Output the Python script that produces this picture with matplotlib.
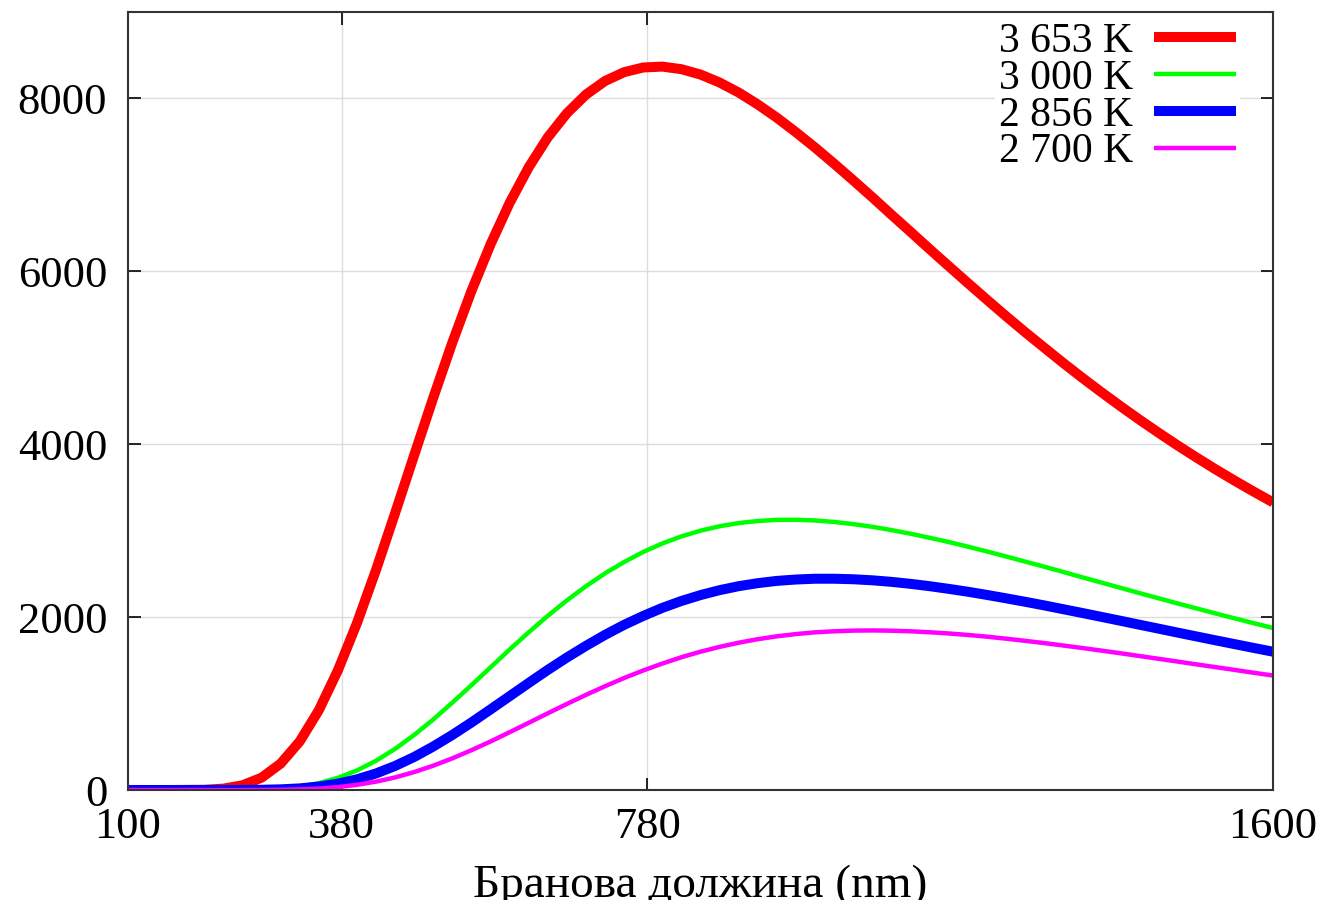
from matplotlib import pyplot as plt
import numpy as np

# values (W/m2/nm against wavelength in nm)
wavelength = [100, 150, 200, 225, 250, 275, 300, 325, 350, 375, 400, 425, 450, 475, 500,
              525, 550, 575, 600, 625, 650, 675, 700, 725, 750, 775, 800, 825, 850, 875,
              900, 925, 950, 975, 1000, 1025, 1050, 1075, 1100, 1125, 1150, 1175, 1200,
              1225, 1250, 1275, 1300, 1325, 1350, 1375, 1400, 1425, 1450, 1475, 1500,
              1525, 1550, 1575, 1600]

t3653 = [0, 0, 3, 16, 55, 143, 306, 563, 924, 1385, 1933, 2549, 3206, 3877, 4541,
         5180, 5775, 6314, 6793, 7205, 7551, 7829, 8045, 8202, 8304, 8358, 8368, 8338,
         8276, 8184, 8068, 7930, 7777, 7609, 7432, 7245, 7053, 6857, 6656, 6458, 6258,
         6061, 5866, 5673, 5483, 5298, 5119, 4941, 4769, 4603, 4441, 4284, 4133, 3986,
         3845, 3708, 3577, 3450, 3327]
t3000 = [0, 0, 0, 0, 2, 6, 18, 40, 80, 141, 227, 339, 477, 638, 817,
         1012, 1214, 1420, 1626, 1825, 2016, 2194, 2358, 2507, 2638, 2754, 2852, 2934,
         3000, 3051, 3088, 3112, 3125, 3126, 3118, 3101, 3076, 3045, 3007, 2965, 2918,
         2869, 2816, 2760, 2702, 2643, 2584, 2523, 2461, 2400, 2339, 2278, 2218, 2158,
         2100, 2042, 1985, 1929, 1874]
t2856 = [0, 0, 0, 0, 1, 3, 8, 19, 40, 74, 124, 192, 279, 383, 504,
         638, 782, 933, 1086, 1239, 1390, 1533, 1668, 1795, 1911, 2014, 2107, 2187,
         2255, 2312, 2358, 2393, 2419, 2435, 2444, 2444, 2438, 2426, 2408, 2385, 2358,
         2327, 2294, 2257, 2218, 2178, 2136, 2092, 2048, 2003, 1958, 1912, 1867, 1821,
         1776, 1731, 1687, 1643, 1600]
t2700 = [0, 0, 0, 0, 0, 1, 3, 8, 17, 34, 60, 97, 146, 208, 282,
         367, 461, 562, 669, 778, 888, 996, 1101, 1201, 1296, 1383, 1463, 1536,
         1600, 1656, 1704, 1745, 1778, 1804, 1824, 1836, 1844, 1846, 1843, 1836, 1825,
         1811, 1794, 1774, 1751, 1726, 1700, 1672, 1643, 1613, 1582, 1550, 1518, 1486,
         1453, 1421, 1389, 1356, 1324]

x_ticks = [100, 380, 780, 1600]
y_ticks = [0, 2000, 4000, 6000, 8000]

plt.rcParams['font.family'] = ['Liberation Serif', 'DejaVu Serif']

figure = plt.figure(figsize=(13.24, 9.0), dpi=100)
axes = figure.add_axes([0.0967, 0.1222, 0.8648, 0.8645])

axes.plot(wavelength, t3653, color='#ff0000', lw=7.2, label='3 653 K', solid_capstyle='butt')
axes.plot(wavelength, t3000, color='#00ff00', lw=3.2, label='3 000 K', solid_capstyle='butt')
axes.plot(wavelength, t2856, color='#0000ff', lw=7.2, label='2 856 K', solid_capstyle='butt')
axes.plot(wavelength, t2700, color='#ff00ff', lw=3.2, label='2 700 K', solid_capstyle='butt')

axes.set_xlim(100, 1600)
axes.set_ylim(0, 9000)
axes.set_xticks(x_ticks)
axes.set_yticks(y_ticks)
axes.tick_params(direction='in', length=9, width=1.2, top=True, right=True,
                 labelsize=32, pad=12)
axes.tick_params(axis='y', pad=15)
for spine in axes.spines.values():
    spine.set_linewidth(1.5)
    spine.set_color('#333333')

for v in y_ticks[1:]:
    axes.axhline(v, color='#dddddd', lw=1, zorder=0)
for v in x_ticks[1:-1]:
    axes.axvline(v, color='#dddddd', lw=1, zorder=0)

axes.set_xlabel('Бранова должина (nm)', fontsize=34, labelpad=13)

legend = axes.legend(loc='upper right', bbox_to_anchor=(0.9712, 0.992), markerfirst=False,
                     fontsize=30, frameon=True, handlelength=1.97, handletextpad=0.5,
                     labelspacing=-0.04, borderaxespad=0, borderpad=0.1, fancybox=False)
legend.get_frame().set_edgecolor('none')
legend.get_frame().set_facecolor('white')
legend.get_frame().set_alpha(1)

plt.savefig('out.png', dpi=100)
